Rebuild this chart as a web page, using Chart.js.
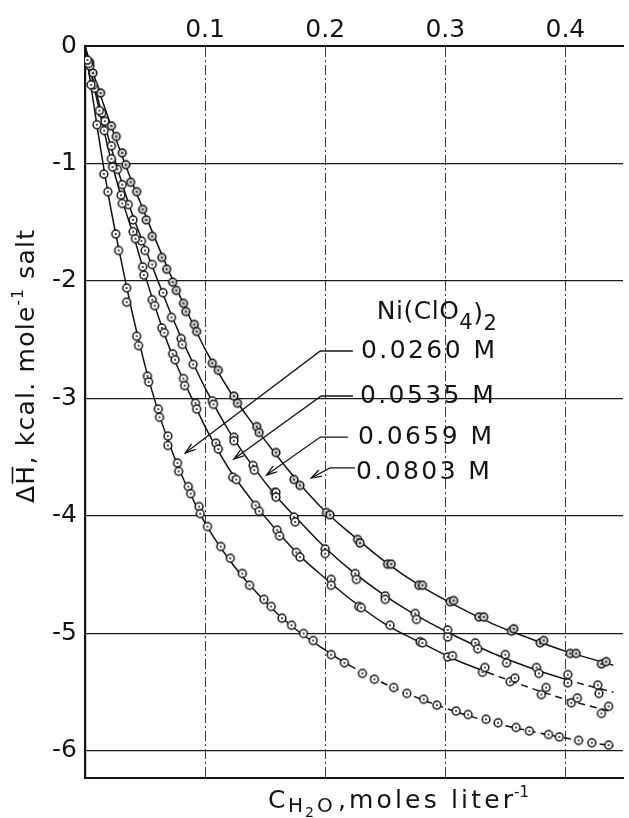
<!DOCTYPE html>
<html>
<head>
<meta charset="utf-8">
<script src="https://cdn.jsdelivr.net/npm/chart.js@4.4.0/dist/chart.umd.min.js"></script>
<style>
html,body{margin:0;padding:0;background:#ffffff;}
#wrap{width:629px;height:818px;position:relative;}
canvas{display:block;}
</style>
</head>
<body>
<div id="wrap"><canvas id="c" width="629" height="818"></canvas></div>
<script>
// ---------------- DATA ----------------
const seriesNames = ['0.0260 M', '0.0535 M', '0.0659 M', '0.0803 M'];

// 0.0260 M  measured points
const s0260_x = [0.002,0.005,0.0099,0.0157,0.019,0.0256,0.028,0.0347,0.0347,0.043,0.0446,0.052,0.053,0.061,0.062,0.069,0.069,0.077,0.078,0.086,0.088,0.095,0.096,0.102,0.113,0.121,0.131,0.137,0.149,0.155,0.164,0.172,0.182,0.190,0.205,0.216,0.231,0.241,0.257,0.268,0.282,0.293,0.309,0.319,0.334,0.344,0.359,0.370,0.386,0.395,0.411,0.422,0.436];
const s0260_y = [-0.12,-0.33,-0.67,-1.09,-1.24,-1.60,-1.74,-2.06,-2.18,-2.47,-2.55,-2.81,-2.86,-3.09,-3.16,-3.32,-3.40,-3.55,-3.62,-3.75,-3.81,-3.92,-3.98,-4.09,-4.26,-4.36,-4.49,-4.59,-4.71,-4.77,-4.87,-4.93,-5.00,-5.06,-5.18,-5.25,-5.34,-5.39,-5.46,-5.51,-5.56,-5.61,-5.66,-5.69,-5.73,-5.76,-5.80,-5.83,-5.86,-5.88,-5.91,-5.93,-5.95];

// 0.0535 M
const s0535_x = [0.003,0.007,0.012,0.016,0.022,0.023,0.030,0.031,0.040,0.042,0.048,0.049,0.056,0.058,0.064,0.066,0.073,0.075,0.082,0.083,0.092,0.093,0.109,0.111,0.123,0.126,0.142,0.145,0.160,0.162,0.176,0.179,0.205,0.205,0.228,0.230,0.254,0.279,0.281,0.302,0.306,0.331,0.333,0.354,0.358,0.380,0.384,0.405,0.410,0.430,0.436];
const s0535_y = [-0.15,-0.33,-0.55,-0.72,-0.96,-1.03,-1.27,-1.34,-1.58,-1.64,-1.88,-1.95,-2.16,-2.21,-2.40,-2.44,-2.62,-2.67,-2.83,-2.89,-3.04,-3.09,-3.38,-3.43,-3.67,-3.69,-3.91,-3.96,-4.12,-4.17,-4.31,-4.35,-4.54,-4.59,-4.77,-4.78,-4.93,-5.07,-5.08,-5.20,-5.19,-5.33,-5.29,-5.41,-5.38,-5.52,-5.46,-5.59,-5.55,-5.68,-5.62];

// 0.0659 M
const s0659_x = [0.004,0.008,0.014,0.0165,0.022,0.027,0.031,0.036,0.040,0.047,0.050,0.056,0.065,0.072,0.080,0.081,0.090,0.106,0.107,0.124,0.124,0.140,0.141,0.158,0.159,0.159,0.174,0.175,0.200,0.200,0.225,0.226,0.250,0.250,0.275,0.276,0.302,0.302,0.325,0.327,0.350,0.351,0.376,0.378,0.402,0.402,0.427,0.428];
const s0659_y = [-0.17,-0.36,-0.57,-0.64,-0.85,-1.05,-1.18,-1.35,-1.48,-1.66,-1.74,-1.86,-2.10,-2.31,-2.49,-2.54,-2.71,-3.02,-3.05,-3.33,-3.36,-3.57,-3.61,-3.80,-3.80,-3.84,-4.01,-4.05,-4.28,-4.32,-4.49,-4.54,-4.68,-4.71,-4.83,-4.88,-4.97,-5.03,-5.08,-5.13,-5.18,-5.25,-5.29,-5.34,-5.35,-5.42,-5.44,-5.51];

// 0.0803 M
const s0803_x = [0.004,0.0066,0.013,0.022,0.026,0.031,0.034,0.038,0.043,0.048,0.051,0.056,0.064,0.068,0.073,0.076,0.082,0.084,0.091,0.093,0.106,0.111,0.124,0.127,0.143,0.145,0.159,0.174,0.179,0.201,0.204,0.227,0.229,0.252,0.255,0.278,0.281,0.304,0.307,0.328,0.332,0.355,0.357,0.379,0.382,0.404,0.409,0.430,0.434];
const s0803_y = [-0.14,-0.23,-0.40,-0.68,-0.77,-0.91,-1.01,-1.16,-1.24,-1.39,-1.48,-1.62,-1.80,-1.90,-2.01,-2.08,-2.19,-2.26,-2.37,-2.43,-2.70,-2.76,-2.98,-3.04,-3.24,-3.29,-3.46,-3.69,-3.74,-3.97,-3.99,-4.20,-4.23,-4.41,-4.41,-4.59,-4.59,-4.73,-4.72,-4.86,-4.86,-4.98,-4.96,-5.08,-5.06,-5.17,-5.17,-5.26,-5.24];

// smooth drawn curves
const fit0260_x = [0,0.01,0.02,0.03,0.04,0.05,0.06,0.07,0.08,0.09,0.10,0.12,0.14,0.16,0.18,0.20,0.22,0.25,0.28,0.31,0.34,0.37,0.40,0.44];
const fit0260_y = [0,-0.68,-1.30,-1.82,-2.30,-2.72,-3.08,-3.38,-3.64,-3.86,-4.06,-4.37,-4.62,-4.83,-5.00,-5.14,-5.27,-5.43,-5.56,-5.67,-5.76,-5.83,-5.89,-5.96];
const fit0535_x = [0,0.01,0.02,0.03,0.04,0.05,0.06,0.07,0.08,0.09,0.10,0.12,0.14,0.16,0.18,0.20,0.22,0.25,0.28,0.31,0.335,0.37,0.40,0.44];
const fit0535_y = [0,-0.46,-0.90,-1.28,-1.60,-1.95,-2.27,-2.56,-2.80,-3.02,-3.24,-3.60,-3.88,-4.13,-4.35,-4.53,-4.70,-4.92,-5.08,-5.23,-5.33,-5.46,-5.56,-5.67];
const fit0659_x = [0,0.01,0.02,0.03,0.04,0.05,0.06,0.07,0.08,0.09,0.10,0.12,0.14,0.16,0.18,0.20,0.22,0.25,0.28,0.31,0.34,0.37,0.40,0.44];
const fit0659_y = [0,-0.42,-0.80,-1.14,-1.45,-1.72,-1.98,-2.24,-2.48,-2.70,-2.91,-3.28,-3.58,-3.84,-4.06,-4.27,-4.45,-4.68,-4.87,-5.03,-5.17,-5.29,-5.39,-5.50];
const fit0803_x = [0,0.01,0.02,0.03,0.04,0.05,0.06,0.07,0.08,0.09,0.10,0.12,0.14,0.16,0.18,0.20,0.22,0.25,0.28,0.31,0.34,0.37,0.40,0.44];
const fit0803_y = [0,-0.33,-0.63,-0.91,-1.18,-1.43,-1.68,-1.92,-2.15,-2.37,-2.58,-2.93,-3.22,-3.49,-3.74,-3.96,-4.14,-4.39,-4.60,-4.77,-4.92,-5.04,-5.15,-5.27];
// x from which each drawn curve becomes dashed
const dashFrom = [0.22, 0.335, 0.40, 1];

// tick labels
const xTickValues = [0.1, 0.2, 0.3, 0.4];
const xTickLabels = ['0.1', '0.2', '0.3', '0.4'];
const yTickValues = [0, -1, -2, -3, -4, -5, -6];
const yTickLabels = ['0', '-1', '-2', '-3', '-4', '-5', '-6'];

// ---------------- LAYOUT / STYLE ----------------
const FONT = '"DejaVu Sans", "Liberation Sans", sans-serif';
const INK = '#141414';

// annotation layout (in data units so it goes through the scales)
const labelLayout = [
  {text: seriesNames[0], tx: 0.2298, ty: -2.604, hx: 0.2231, kx: 0.1959, ky: -2.596, px: 0.0835, py: -3.464},
  {text: seriesNames[1], tx: 0.2289, ty: -2.987, hx: 0.2231, kx: 0.1967, ky: -2.979, px: 0.124,  py: -3.515},
  {text: seriesNames[2], tx: 0.2273, ty: -3.328, hx: 0.2190, kx: 0.1959, ky: -3.328, px: 0.1512, py: -3.651},
  {text: seriesNames[3], tx: 0.2256, ty: -3.626, hx: 0.2248, kx: 0.2041, ky: -3.591, px: 0.1884, py: -3.677}
];

function zip(xs, ys) { return xs.map((v, i) => ({x: v, y: ys[i]})); }

function makeMarker(dark) {
  const c = document.createElement('canvas');
  c.width = 12; c.height = 12;
  const g = c.getContext('2d');
  g.beginPath(); g.arc(6, 6, 3.9, 0, Math.PI * 2);
  g.fillStyle = dark ? '#cfcfcf' : '#ffffff'; g.fill();
  g.lineWidth = 1.5; g.strokeStyle = INK; g.stroke();
  g.beginPath(); g.arc(6, 6, 1.0, 0, Math.PI * 2);
  g.fillStyle = INK; g.fill();
  return c;
}

const pointSets = [[s0260_x, s0260_y], [s0535_x, s0535_y], [s0659_x, s0659_y], [s0803_x, s0803_y]];
const fitSets = [[fit0260_x, fit0260_y], [fit0535_x, fit0535_y], [fit0659_x, fit0659_y], [fit0803_x, fit0803_y]];

const datasets = [];
fitSets.forEach((f, i) => {
  const from = dashFrom[i];
  datasets.push({
    label: seriesNames[i] + ' curve',
    data: zip(f[0], f[1]),
    borderColor: INK,
    borderWidth: 1.5,
    pointRadius: 0,
    fill: false,
    cubicInterpolationMode: 'monotone',
    segment: { borderDash: c => (c.p0.parsed.x >= from - 1e-9 ? [7, 5] : undefined) },
    order: 2
  });
});
pointSets.forEach((p, i) => {
  datasets.push({
    label: seriesNames[i],
    data: zip(p[0], p[1]),
    showLine: false,
    pointStyle: makeMarker(i === 3),
    pointRadius: 5,
    order: 1
  });
});

// draw text char by char with extra spacing so a run list fills a target width
function drawRuns(ctx, runs, x0, y0, target) {
  let natural = 0, nChars = 0;
  runs.forEach(r => {
    ctx.font = r.size + 'px ' + FONT;
    natural += ctx.measureText(r.t).width;
    nChars += [...r.t].length;
  });
  const extra = target ? (target - natural) / Math.max(1, nChars - 1) : 0;
  let x = x0;
  const marks = [];
  runs.forEach(r => {
    ctx.font = r.size + 'px ' + FONT;
    for (const ch of r.t) {
      const w = ctx.measureText(ch).width;
      ctx.fillText(ch, x, y0 + (r.dy || 0));
      if (r.bar && ch === r.bar) marks.push({x: x, w: w, size: r.size});
      x += w + extra;
    }
  });
  return marks;
}

const annotPlugin = {
  id: 'annot',
  afterDraw(chart) {
    const {ctx} = chart;
    const xs = chart.scales.x, ys = chart.scales.y;
    const X = v => xs.getPixelForValue(v), Y = v => ys.getPixelForValue(v);
    ctx.save();
    ctx.fillStyle = INK; ctx.strokeStyle = INK;
    ctx.textBaseline = 'alphabetic'; ctx.textAlign = 'left';

    // legend heading Ni(ClO4)2
    drawRuns(ctx, [
      {t: 'Ni(ClO', size: 25},
      {t: '4', size: 21, dy: 10},
      {t: ')', size: 25, dy: 2},
      {t: '2', size: 21, dy: 11}
    ], X(0.243), Y(-2.323), 120);

    // series labels with leader lines and arrows
    labelLayout.forEach(L => {
      ctx.textBaseline = 'middle';
      drawRuns(ctx, [{t: L.text, size: 25}], X(L.tx), Y(L.ty), 134);
      ctx.textBaseline = 'alphabetic';
      const hx = X(L.hx), kx = X(L.kx), ky = Y(L.ky), tx = X(L.px), ty = Y(L.py);
      ctx.lineWidth = 1.3;
      ctx.beginPath(); ctx.moveTo(hx, ky); ctx.lineTo(kx, ky); ctx.lineTo(tx, ty); ctx.stroke();
      const ang = Math.atan2(ty - ky, tx - kx);
      const len = 11, spread = 0.32;
      ctx.beginPath();
      ctx.moveTo(tx - len * Math.cos(ang - spread), ty - len * Math.sin(ang - spread));
      ctx.lineTo(tx, ty);
      ctx.lineTo(tx - len * Math.cos(ang + spread), ty - len * Math.sin(ang + spread));
      ctx.stroke();
    });

    // y axis title (rotated)
    ctx.save();
    ctx.translate(34, 503);
    ctx.rotate(-Math.PI / 2);
    const marks = drawRuns(ctx, [
      {t: '\u0394H', size: 25, bar: 'H'},
      {t: ', kcal. mole', size: 25},
      {t: '-1', size: 15, dy: -11},
      {t: ' salt', size: 25}
    ], 0, 0, 273);
    marks.forEach(m => {
      ctx.lineWidth = 1.6;
      ctx.beginPath(); ctx.moveTo(m.x + 1, -m.size * 0.86); ctx.lineTo(m.x + m.w - 1, -m.size * 0.86); ctx.stroke();
    });
    ctx.restore();

    // x axis title: C with subscript H2O, then ", moles liter-1"
    const base = 808;
    drawRuns(ctx, [{t: 'C', size: 25}], 268, base);
    drawRuns(ctx, [{t: 'H', size: 20, dy: 4}], 288, base);
    drawRuns(ctx, [{t: '2', size: 14, dy: 9}], 305, base);
    drawRuns(ctx, [{t: 'O', size: 20, dy: 4}], 317, base);
    drawRuns(ctx, [{t: ',', size: 25}], 338, base);
    drawRuns(ctx, [{t: 'moles liter', size: 25}], 349, base, 164);
    drawRuns(ctx, [{t: '-1', size: 15, dy: -11}], 514, base);

    ctx.restore();
  }
};

new Chart(document.getElementById('c'), {
  type: 'line',
  data: { datasets },
  plugins: [annotPlugin],
  options: {
    responsive: false,
    animation: false,
    events: [],
    layout: { padding: { left: 0, right: 2, top: 0, bottom: 0 } },
    plugins: { legend: { display: false }, tooltip: { enabled: false }, title: { display: false } },
    scales: {
      x: {
        type: 'linear', position: 'top', min: 0, max: 0.448,
        afterFit(s) { s.height = 46; },
        ticks: {
          stepSize: 0.1, includeBounds: false, autoSkip: false, maxRotation: 0, minRotation: 0,
          padding: 1, color: INK, font: { family: FONT, size: 25 },
          callback: v => { const i = xTickValues.findIndex(t => Math.abs(t - v) < 1e-6); return i >= 0 ? xTickLabels[i] : ''; }
        },
        grid: { drawTicks: false, lineWidth: 1, color: c => (c.tick && Math.abs(c.tick.value) < 1e-9 ? 'rgba(0,0,0,0)' : '#3a3a3a') },
        border: { display: true, width: 2, color: INK, dash: [10, 3, 2, 3] }
      },
      x2: {
        type: 'linear', position: 'bottom', min: 0, max: 0.448,
        afterFit(s) { s.height = 40; },
        ticks: { display: false },
        grid: { display: false, drawTicks: false },
        border: { display: true, width: 2, color: INK }
      },
      y: {
        type: 'linear', position: 'left', min: -6.23, max: 0,
        afterFit(s) { s.width = 85; },
        ticks: {
          stepSize: 1, includeBounds: false, autoSkip: false, padding: 8, color: INK,
          font: { family: FONT, size: 25 },
          callback: v => { const i = yTickValues.findIndex(t => Math.abs(t - v) < 1e-6); return i >= 0 ? yTickLabels[i] : ''; }
        },
        grid: { drawTicks: false, lineWidth: 1.3, color: c => (c.tick && Math.abs(c.tick.value) < 1e-9 ? 'rgba(0,0,0,0)' : '#1a1a1a') },
        border: { display: true, width: 2.2, color: INK }
      }
    }
  }
});
</script>
</body>
</html>
